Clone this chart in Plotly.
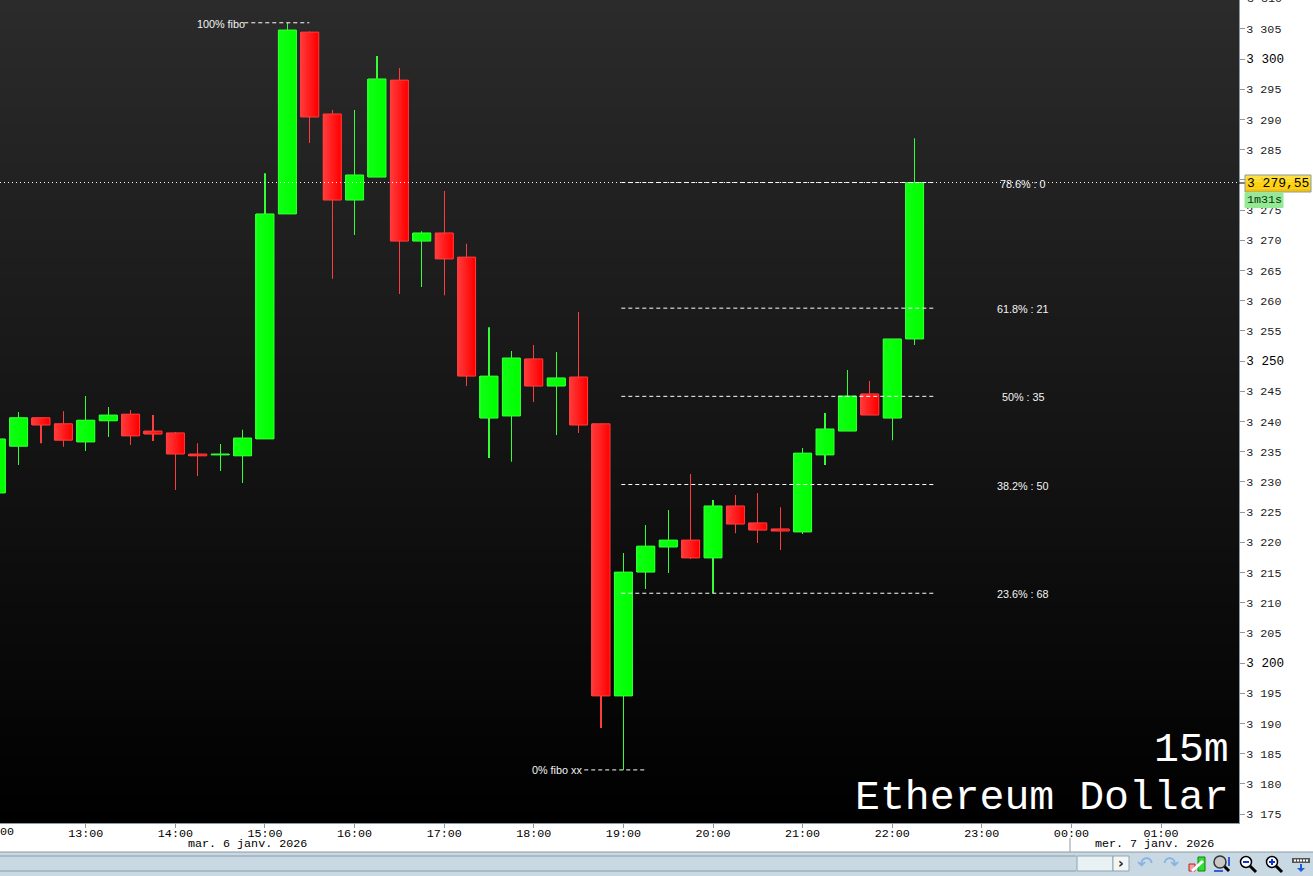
import pandas as pd
import plotly.graph_objects as go

W, H = 1313, 876
PL, PB = 1239, 823

times = pd.date_range("2026-01-06 12:00", periods=42, freq="15min")
opens = [3228.15,3235.9,3240.6,3239.6,3236.6,3240.1,3241.2,3238.4,3238.1,3234.6,3234.45,3234.3,
         3237.1,3274.35,3304.45,3290.9,3276.65,3280.45,3296.5,3269.85,3271.2,3267.2,3240.55,3240.9,
         3250.35,3245.85,3247.35,3239.6,3194.55,3215.05,3219.2,3220.35,3217.4,3226.0,3223.2,3222.2,
         3221.7,3234.45,3238.4,3244.55,3240.55,3253.65]
highs = [3238.6,3241.55,3240.6,3241.7,3244.2,3242.4,3241.9,3241.05,3238.25,3236.4,3236.25,3238.6,
         3281.1,3306.0,3304.6,3291.55,3291.55,3300.5,3298.5,3271.5,3278.15,3269.4,3255.6,3251.65,
         3252.65,3251.5,3258.1,3239.6,3218.2,3222.85,3225.35,3231.3,3227.0,3227.8,3228.15,3225.8,
         3235.6,3241.4,3248.5,3246.7,3253.65,3286.9]
lows = [3227.0,3232.8,3236.4,3235.8,3235.1,3237.4,3236.1,3236.75,3228.65,3230.95,3231.8,3229.8,
        3237.1,3274.35,3286.1,3263.6,3270.85,3280.45,3261.1,3262.25,3260.9,3245.85,3233.95,3233.3,
        3243.2,3237.75,3238.1,3189.25,3182.3,3212.25,3214.9,3217.2,3211.6,3221.5,3219.85,3218.7,
        3221.35,3232.8,3238.4,3241.05,3236.9,3252.65]
closes = [3237.1,3240.6,3239.4,3236.9,3240.2,3241.05,3237.6,3237.9,3234.6,3234.3,3234.6,3237.25,
          3274.35,3304.8,3290.4,3276.65,3280.8,3296.7,3269.85,3271.2,3266.9,3247.5,3247.5,3250.5,
          3245.85,3247.2,3239.4,3194.55,3215.05,3219.35,3220.35,3217.4,3226.0,3223.0,3222.0,3221.85,
          3234.75,3238.75,3244.2,3241.05,3253.65,3279.55]

fib_labels = ["23.6% : 68", "38.2% : 50", "50% : 35", "61.8% : 21", "78.6% : 0"]
fib_levels = [3211.55, 3229.55, 3244.15, 3258.75, 3279.55]
fib_start, fib_end, fib_label_time = "2026-01-06 18:58:36", "2026-01-06 22:28:48", "2026-01-06 23:27:45"
fib_top = ("100% fibo", 3306.0, "2026-01-06 14:46:08", "2026-01-06 15:29:40")
fib_bottom = ("0% fibo xx", 3182.3, "2026-01-06 18:33:47", "2026-01-06 19:15:30")
last_price = 3279.55

X_START, X_END = "2026-01-06 12:02:33", "2026-01-07 01:52:14"
x_ticks = pd.date_range("2026-01-06 13:00", periods=13, freq="1h")
x_text = [t.strftime("%H:%M") for t in x_ticks]
y_ticks = list(range(3175, 3310, 5))
y_text = []
for v in y_ticks:
    s = f"3 {v - 3000}"
    y_text.append(f'<span style="font-size:12.6px;color:#000">{s}</span>' if v % 50 == 0 else s)

RED_L, RED_R = (255, 60, 60), (255, 0, 0)
GRN_L, GRN_R = (15, 255, 20), (0, 255, 0)
RED_LINE, GRN_LINE = "#ff3c3c", "#34ff34"
MONO = "Liberation Mono"
SANS = "Liberation Sans"
AXIS = "#8c9aa4"
FS = 11.7

def px(x): return x / W
def py(y): return 1 - y / H
def path(pts, close=True):
    return "M" + " L".join(f"{px(a):.5f},{py(b):.5f}" for a, b in pts) + (" Z" if close else "")

fig = go.Figure()

fig.add_trace(go.Heatmap(
    x=[X_START, X_END], y=[3173.51, 3309.77],
    z=[[0, 0], [1, 1]], zsmooth="best", showscale=False, hoverinfo="skip",
    colorscale=[[0, "#000000"], [1, "#2b2b2b"]], zmin=0, zmax=1))

N = 18
body_ms = 18 / 89.6 * 3600000
wick_ms = 0.03 / 89.6 * 3600000
for up, L, R, edge in ((True, GRN_L, GRN_R, GRN_LINE), (False, RED_L, RED_R, RED_LINE)):
    idx = [k for k in range(len(times)) if (closes[k] >= opens[k]) == up]
    ys = [abs(closes[k] - opens[k]) for k in idx]
    base = [min(closes[k], opens[k]) for k in idx]
    xs = [times[k] for k in idx]
    # wick: one crisp pixel column from low to high
    fig.add_trace(go.Bar(x=xs, y=[highs[k] - lows[k] for k in idx], base=[lows[k] for k in idx],
                         width=wick_ms, marker=dict(color=edge, line_width=0), hoverinfo="skip"))
    # body painted as thin strips for the left-to-right shading
    for i in range(N):
        f = i / (N - 1)
        off = pd.to_timedelta((i + .5) / N * body_ms - body_ms / 2, unit="ms")
        col = "rgb(%d,%d,%d)" % tuple(round(L[c] + (R[c] - L[c]) * f) for c in range(3))
        fig.add_trace(go.Bar(x=[t + off for t in xs], y=ys, base=base,
                             width=body_ms / N, marker=dict(color=col, line_width=0),
                             hoverinfo="skip"))
    # outline
    fig.add_trace(go.Bar(x=xs, y=ys, base=base, width=body_ms,
                         marker=dict(color="rgba(0,0,0,0)", line=dict(color=edge, width=1)),
                         hoverinfo="skip"))

fig.add_trace(go.Scatter(
    x=[X_START, X_END], y=[last_price, last_price], mode="lines",
    line=dict(color="#ffffff", width=1, dash="1px,3px"), hoverinfo="skip"))
for lvl in fib_levels:
    fig.add_trace(go.Scatter(x=[fib_start, fib_end], y=[lvl, lvl], mode="lines",
                             line=dict(color="#ffffff", width=1, dash="4px,3px"), hoverinfo="skip"))
for _, lvl, a, b in (fib_top, fib_bottom):
    fig.add_trace(go.Scatter(x=[a, b], y=[lvl, lvl], mode="lines",
                             line=dict(color="#ffffff", width=1, dash="4px,3px"), hoverinfo="skip"))

ann = []
def text(x, y, s, size=FS, color="#000000", family=MONO, anchor="center"):
    ann.append(dict(xref="paper", yref="paper", x=px(x), y=py(y), text=s, showarrow=False,
                    xanchor=anchor, yanchor="middle", font=dict(size=size, color=color, family=family),
                    borderpad=0, borderwidth=0))

for lab, lvl in zip(fib_labels, fib_levels):
    ann.append(dict(x=fib_label_time, y=lvl, xref="x", yref="y", text=lab, showarrow=False, yshift=-1,
                    font=dict(size=10.8, color="#f4f4f4", family=SANS)))
text(245, 24, fib_top[0], 10.8, "#f4f4f4", SANS, "right")
text(582, 770, fib_bottom[0], 10.8, "#f4f4f4", SANS, "right")
text(1229, 749, "15m", 41.5, "#ffffff", MONO, "right")
text(1229, 797, "Ethereum Dollar", 41.5, "#ffffff", MONO, "right")
text(1246.5, -1, "3 310", FS, "#222222", MONO, "left")
text(0, 832, "00", FS, "#000000", MONO, "left")
text(247.5, 844, "mar. 6 janv. 2026")
text(1154.5, 844, "mer. 7 janv. 2026")

sh = []
def rect(x0, y0, x1, y1, fill, line=None, lw=1):
    sh.append(dict(type="rect", xref="paper", yref="paper", x0=px(x0), x1=px(x1), y0=py(y0), y1=py(y1),
                   fillcolor=fill, line=dict(color=line or "rgba(0,0,0,0)", width=lw if line else 0)))
def seg(x0, y0, x1, y1, color, lw=1):
    sh.append(dict(type="line", xref="paper", yref="paper", x0=px(x0), x1=px(x1), y0=py(y0), y1=py(y1),
                   line=dict(color=color, width=lw)))
def circ(cx, cy, r, fill, line, lw=1.5):
    sh.append(dict(type="circle", xref="paper", yref="paper", x0=px(cx - r), x1=px(cx + r),
                   y0=py(cy - r), y1=py(cy + r), fillcolor=fill, line=dict(color=line, width=lw)))
def poly(pts, fill):
    sh.append(dict(type="path", xref="paper", yref="paper", path=path(pts), fillcolor=fill, line_width=0))

# price tags
seg(1239, 183, 1245, 183, "#000000")
for i, c in enumerate(["#ffdf3a", "#ffd820", "#ffd210", "#fccb00", "#f5c400"]):
    rect(1245, 175 + i * 3.4, 1311, 175 + (i + 1) * 3.4, c)
rect(1245, 175, 1311, 192, "rgba(0,0,0,0)", "#8c9aa4")
rect(1245, 193, 1283, 207.5, "#93ea93", "#93ea93")
text(1278, 183.5, "3 279,55", 13, "#000000", MONO)
text(1264, 200, "1m31s", FS, "#10331a", MONO)

# date separator
seg(1070, 838, 1070, 852, AXIS)

# toolbar
BAR = "#c8d9e3"
rect(0, 852, W, H, BAR)
seg(0, 852, W, 852, AXIS)
seg(0, 856, 1076, 856, AXIS)
seg(0, 871, 1076, 871, AXIS)
rect(1077, 856, 1113, 871, "#e8f1f3", "#93a3ad")
rect(1113, 856, 1129, 871, "#f2f6f7", "#93a3ad")
text(1121, 863, "<b>›</b>", 14, "#222222", "DejaVu Sans")
text(1145, 863, "↶", 19, "#86b2e2", "DejaVu Sans")
text(1171, 863, "↷", 19, "#86b2e2", "DejaVu Sans")
rect(1189, 864, 1195, 871, "#f0a0a0", "#c02020")
rect(1198, 857, 1205, 871, "#30e030", "#108010")
seg(1192, 871, 1203, 861, "#ffffff", 3)
seg(1222, 864, 1229, 871, "#000000", 3)
circ(1220, 862, 6, "#c8c8c8", "#333333")
seg(1229, 857, 1229, 866, "#0a32d8", 1.5)
seg(1214, 871, 1223, 871, "#0a32d8", 1.5)
seg(1250, 866, 1256, 872, "#000000", 3)
circ(1246, 862, 5.5, "#ffffff", "#000000")
seg(1243, 862, 1249, 862, "#0a32d8", 2)
seg(1276, 866, 1282, 872, "#000000", 3)
circ(1272, 862, 5.5, "#ffffff", "#000000")
seg(1269, 862, 1275, 862, "#0a32d8", 2)
seg(1272, 859, 1272, 865, "#0a32d8", 2)
rect(1292, 858, 1310, 863, "#555555")
for xd in (1295, 1298, 1301, 1304, 1307):
    rect(xd - 1, 859.5, xd + 1, 861.5, "#ffffff")
seg(1301, 864, 1301, 869, "#1a5fd8", 2)
poly([(1297, 868), (1305, 868), (1301, 872)], "#1a5fd8")

fig.update_layout(
    width=W, height=H, margin=dict(l=0, r=0, t=0, b=0, pad=0), autosize=False,
    paper_bgcolor="#ffffff", plot_bgcolor="#000000", showlegend=False, barmode="overlay",
    hovermode=False, annotations=ann, shapes=sh,
    xaxis=dict(domain=[0, PL / W], type="date", anchor="y",
               range=[X_START, X_END],
               tickmode="array", tickvals=list(x_ticks), ticktext=x_text, ticks="outside", ticklen=4,
               ticklabelstandoff=-5,
               tickwidth=1, tickcolor=AXIS, showline=True, linecolor=AXIS, linewidth=1, showgrid=False,
               zeroline=False, tickfont=dict(family=MONO, size=FS, color="#000000")),
    yaxis=dict(domain=[1 - PB / H, 1], side="right", anchor="x", range=[3173.51, 3309.77],
               tickmode="array", tickvals=y_ticks, ticktext=y_text, ticks="outside", ticklen=5,
               ticklabelstandoff=-1,
               tickwidth=1, tickcolor=AXIS, showline=True, linecolor=AXIS, linewidth=1, showgrid=False,
               zeroline=False, tickfont=dict(family=MONO, size=FS, color="#222222")),
)
fig.write_html("out.html", config=dict(displayModeBar=False),
               post_script="document.body.style.margin='0';document.body.style.overflow='hidden';")
